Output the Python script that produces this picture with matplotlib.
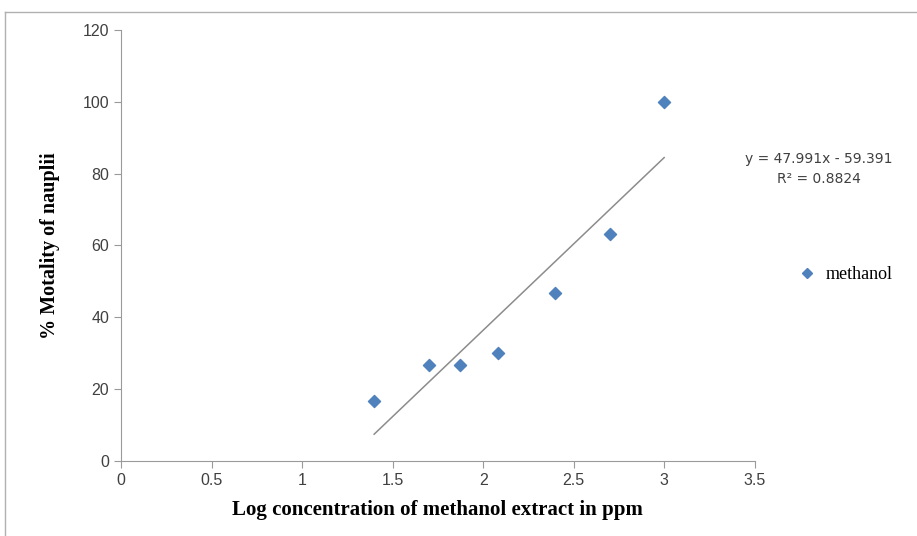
import numpy as np
import matplotlib.pyplot as plt
from matplotlib.lines import Line2D
from matplotlib import font_manager

# log10 of concentration (ppm) and % mortality
log_conc = [1.398, 1.699, 1.875, 2.08, 2.398, 2.699, 3.0]
mortality = [16.67, 26.67, 26.67, 30.0, 46.67, 63.33, 100.0]
x_ticks = [0, 0.5, 1, 1.5, 2, 2.5, 3, 3.5]
y_ticks = [0, 20, 40, 60, 80, 100, 120]
eq_text = "y = 47.991x - 59.391\nR² = 0.8824"

names = {f.name for f in font_manager.fontManager.ttflist}
tick_font = "Liberation Sans Narrow" if "Liberation Sans Narrow" in names else "Liberation Sans"

fig = plt.figure(figsize=(9.17, 5.36), dpi=100)
ax = fig.add_axes([0.132, 0.140, 0.691, 0.804])

ax.scatter(log_conc, mortality, marker="D", s=38, color="#4f81bd", zorder=3)

# linear trend line
slope, icpt = np.polyfit(log_conc, mortality, 1)
xs = np.array([min(log_conc), max(log_conc)])
ax.plot(xs, slope * xs + icpt, color="#8c8c8c", lw=1.1, zorder=2)

ax.set_xlim(0, 3.5)
ax.set_ylim(0, 120)
ax.set_xticks(x_ticks)
ax.set_xticklabels([f"{t:g}" for t in x_ticks])
ax.set_yticks(y_ticks)
for s in ["top", "right"]:
    ax.spines[s].set_visible(False)
for s in ["left", "bottom"]:
    ax.spines[s].set_color("#9a9a9a")
ax.tick_params(colors="#9a9a9a", labelcolor="#404040", length=5, labelsize=11.5)
for lab in ax.get_xticklabels() + ax.get_yticklabels():
    lab.set_fontfamily(tick_font)

ax.set_xlabel("Log concentration of methanol extract in ppm", fontfamily="Liberation Serif",
              fontweight="bold", fontsize=15, labelpad=9)
ax.set_ylabel("% Motality of nauplii", fontfamily="Liberation Serif",
              fontweight="bold", fontsize=14.5, labelpad=16)

fig.text(0.893, 0.685, eq_text, ha="center", va="center", fontsize=10,
         color="#404040", linespacing=1.6)

leg_handle = Line2D([], [], marker="D", ls="", color="#4f81bd", markersize=5)
fig.legend([leg_handle], ["methanol"], loc="center left", bbox_to_anchor=(0.843, 0.487),
           frameon=False, handletextpad=0.0, prop={"family": "Liberation Serif", "size": 13})

# outer chart frame
fig.add_artist(Line2D([0.005, 1.0], [0.978, 0.978], color="#b0b0b0", lw=1))
fig.add_artist(Line2D([0.005, 0.005], [0.0, 0.978], color="#b0b0b0", lw=1))

fig.savefig("out.png", dpi=100)
